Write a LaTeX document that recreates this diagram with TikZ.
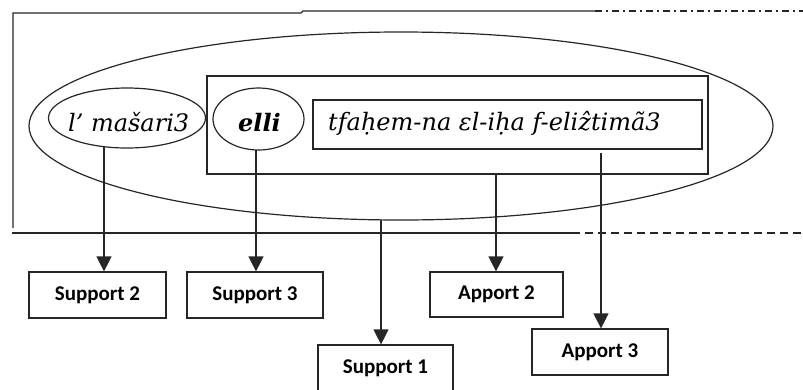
\documentclass[tikz,border=0pt]{standalone}
\usepackage{fontspec}
\setmainfont{DejaVu Serif}
\newfontfamily\boxfont{Carlito}
\usetikzlibrary{shapes.geometric,arrows.meta}
\begin{document}
\begin{tikzpicture}[x=1pt,y=-1pt,
  ln/.style={line width=1.2pt, draw=black!85},
  ell/.style={ln, ellipse, inner sep=0pt},
  rbox/.style={ln, rectangle, inner sep=0pt},
  lbl/.style={rbox, font=\boxfont\bfseries\fontsize{21}{24}\selectfont},
  itxt/.style={inner sep=0pt, anchor=base west},
  arr/.style={ln, -{Triangle[width=15pt,length=15pt]}},
  framesolid/.style={line width=1.2pt, draw=black!85},
  framedashdot/.style={framesolid, dash pattern=on 7pt off 4pt on 2pt off 4pt},
  framedashed/.style={framesolid, dash pattern=on 8pt off 5pt}
]
\useasboundingbox (0,0) rectangle (803,389);
% outer frame
\draw[framesolid] (13,228) -- (13,13) -- (301,13) -- (303,11) -- (595,11);
\draw[framedashdot] (595,11) -- (803,11);
\draw[framesolid] (12,233) -- (572,233);
\draw[framedashed] (572,233) -- (803,233);
% shapes
\node[ell, minimum width=744, minimum height=188] (big) at (401,126) {};
\node[ell, minimum width=157, minimum height=60] (e1) at (127,118) {};
\node[rbox, minimum width=501, minimum height=98] (r1) at (457.5,125) {};
\node[ell, minimum width=91, minimum height=62] (e2) at (258.5,119) {};
\node[rbox, minimum width=389, minimum height=49] (r2) at (507.5,124.5) {};
% texts
\node[itxt, font=\itshape\fontsize{24}{28}\selectfont] (t1) at (68,131) {l’ mašari3};
\node[itxt, font=\bfseries\itshape\fontsize{24}{28}\selectfont] (t2) at (238,131) {elli};
\node[itxt, font=\itshape\fontsize{24}{28}\selectfont] (t3) at (328,130) {tfaḥem-na εl-iḥa f-eliẑtimã3};
% boxes
\node[lbl, minimum width=137, minimum height=46] (s2) at (97.5,295) {Support 2};
\node[lbl, minimum width=136, minimum height=46] (s3) at (255,295) {Support 3};
\node[lbl, minimum width=135, minimum height=46] (s1) at (385.5,368) {Support 1};
\node[lbl, minimum width=133, minimum height=45] (a2) at (496.5,294.5) {Apport 2};
\node[lbl, minimum width=136, minimum height=46] (a3) at (600,352) {Apport 3};
% arrows
\coordinate (p1) at (104,147);
\coordinate (p2) at (256,150);
\coordinate (p3) at (381,220);
\coordinate (p4) at (496,174);
\coordinate (p5) at (601,153);
\draw[arr] (p1) -- (p1 |- s2.north);
\draw[arr] (p2) -- (p2 |- s3.north);
\draw[arr] (p3) -- (p3 |- s1.north);
\draw[arr] (p4) -- (p4 |- a2.north);
\draw[arr] (p5) -- (p5 |- a3.north);
\end{tikzpicture}
\end{document}
